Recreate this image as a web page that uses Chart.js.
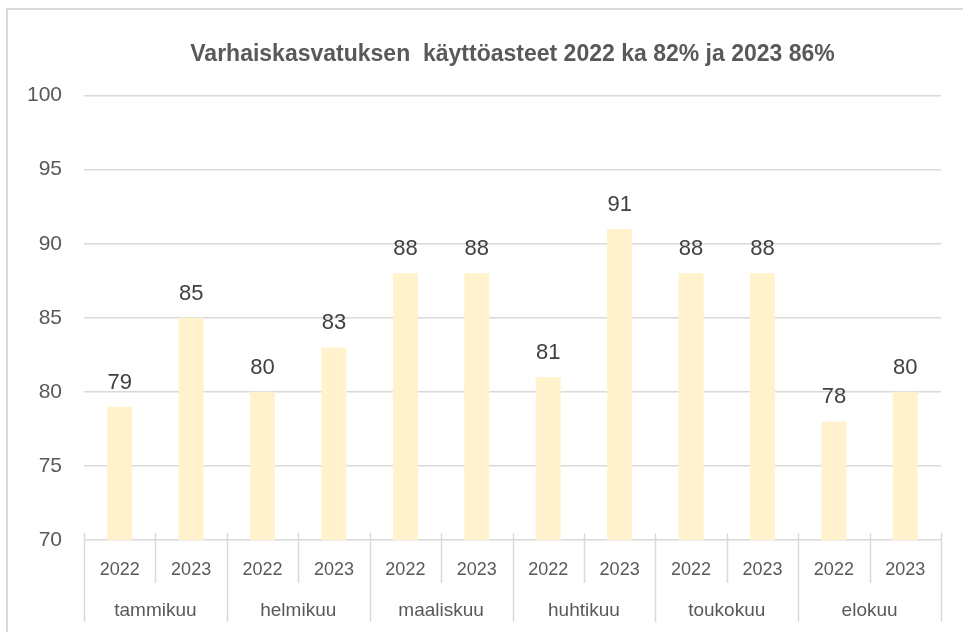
<!DOCTYPE html>
<html>
<head>
<meta charset="utf-8">
<script src="https://cdn.jsdelivr.net/npm/chart.js@4"></script>
<style>
  body { margin: 0; background: #fff; }
  canvas { display: block; }
</style>
</head>
<body>
<canvas id="usage-canvas" width="963" height="632"></canvas>
<script>
const months = ['tammikuu', 'helmikuu', 'maaliskuu', 'huhtikuu', 'toukokuu', 'elokuu'];
const years = ['2022', '2023'];
// käyttöaste per month, 2022 then 2023
const usageRates = [79, 85, 80, 83, 88, 88, 81, 91, 88, 88, 78, 80];
const yMin = 70;
const yMax = 100;
const yStep = 5;

const textColor = '#595959';
const lineColor = '#d9d9d9';

let yearLabels = [];
months.forEach(() => years.forEach(y => yearLabels.push(y)));

Chart.defaults.font.family = "'Liberation Sans', Arial, sans-serif";
Chart.defaults.color = textColor;

// frame, two-level category separators and value labels
const decorations = {
    id: 'decorations',
    afterDraw(chart) {
        const ctx = chart.ctx;
        const x = chart.scales.x;
        const x2 = chart.scales.x2;
        const area = chart.chartArea;
        ctx.save();
        ctx.strokeStyle = lineColor;
        ctx.lineWidth = 2;
        ctx.beginPath();
        ctx.moveTo(7, chart.height);
        ctx.lineTo(7, 9);
        ctx.lineTo(chart.width, 9);
        ctx.stroke();

        ctx.lineWidth = 1.5;
        const step = x.getPixelForValue(1) - x.getPixelForValue(0);
        for (let i = 0; i <= yearLabels.length; i++) {
            const px = Math.round(x.getPixelForValue(0) - step / 2 + i * step) + 0.5;
            const bottom = i % years.length === 0 ? x2.bottom : x.bottom;
            ctx.beginPath();
            ctx.moveTo(px, area.bottom - 7);
            ctx.lineTo(px, bottom);
            ctx.stroke();
        }

        ctx.fillStyle = '#404040';
        ctx.font = "22px 'Liberation Sans', Arial, sans-serif";
        ctx.textAlign = 'center';
        ctx.textBaseline = 'alphabetic';
        const meta = chart.getDatasetMeta(0);
        meta.data.forEach((bar, i) => {
            ctx.fillText(String(usageRates[i]), bar.x, bar.y - 18);
        });
        ctx.restore();
    }
};

let usageCtx = document.getElementById('usage-canvas').getContext('2d');

let usageChart = new Chart(usageCtx, {
    type: 'bar',
    data: {
        labels: yearLabels,
        datasets: [{
            data: usageRates,
            backgroundColor: '#fff2cc',
            borderWidth: 0,
            categoryPercentage: 1,
            barPercentage: 0.35
        }]
    },
    options: {
        responsive: false,
        animation: false,
        layout: {
            padding: {
                left: 0,
                right: 22,
                top: 0,
                bottom: 10
            }
        },
        plugins: {
            legend: { display: false },
            tooltip: { enabled: false },
            title: {
                display: true,
                fullSize: false,
                text: 'Varhaiskasvatuksen  käyttöasteet 2022 ka 82% ja 2023 86%',
                color: textColor,
                font: { size: 23, weight: 'bold' },
                padding: { top: 41, bottom: 27 }
            }
        },
        scales: {
            y: {
                min: yMin,
                max: yMax,
                ticks: {
                    stepSize: yStep,
                    padding: 22,
                    color: textColor,
                    font: { size: 21 }
                },
                grid: {
                    color: lineColor,
                    lineWidth: 1.5,
                    drawTicks: false
                },
                border: { display: false },
                afterFit(scale) { scale.width = 84; }
            },
            x: {
                ticks: {
                    padding: 11,
                    color: textColor,
                    font: { size: 18 },
                    maxRotation: 0,
                    autoSkip: false
                },
                grid: { display: false },
                border: { display: false },
                afterFit(scale) { scale.height = 43; }
            },
            x2: {
                type: 'category',
                labels: months,
                position: 'bottom',
                offset: true,
                ticks: {
                    padding: 8,
                    color: textColor,
                    font: { size: 19 },
                    maxRotation: 0,
                    autoSkip: false
                },
                grid: { display: false },
                border: { display: false },
                afterFit(scale) { scale.height = 39; }
            }
        }
    },
    plugins: [decorations]
});
</script>
</body>
</html>
